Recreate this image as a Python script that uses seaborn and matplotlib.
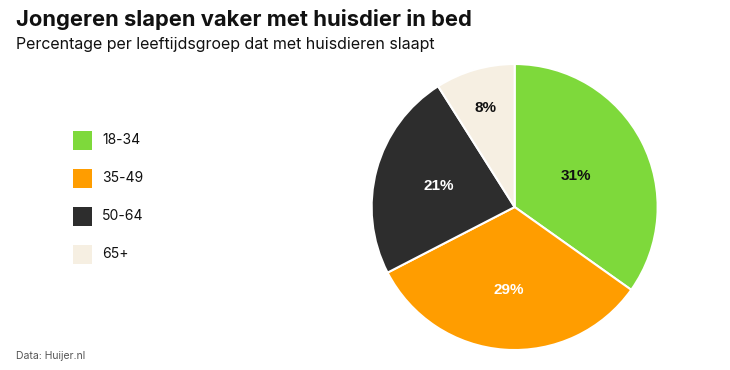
import matplotlib
matplotlib.use("Agg")
import matplotlib.pyplot as plt
import seaborn as sns
import numpy as np
from matplotlib.patches import Rectangle

categories = ["18-34", "35-49", "50-64", "65+"]
values = [31, 29, 21, 8]
value_labels = ["31%", "29%", "21%", "8%"]
colors = ["#7ED93B", "#FF9D00", "#2D2D2D", "#F6EFE2"]
label_colors = ["#111111", "#FFFFFF", "#FFFFFF", "#111111"]

sns.set_style("white")
plt.rcParams["font.family"] = ["Inter", "DejaVu Sans"]

fig = plt.figure(figsize=(7.3, 3.7), dpi=100)
fig.patch.set_facecolor("white")

ax = fig.add_axes([0.509, 0.054, 0.392, 0.773])
wedges, _ = ax.pie(values, colors=colors, startangle=90, counterclock=False,
                   radius=1.0, wedgeprops=dict(edgecolor="white", linewidth=1.5))
ax.set_xlim(-1, 1)
ax.set_ylim(-1, 1)
ax.set_aspect("equal")
ax.axis("off")

dist = [0.48, 0.58, 0.55, 0.72]
for w, lab, c, d in zip(wedges, value_labels, label_colors, dist):
    ang = np.deg2rad((w.theta1 + w.theta2) / 2)
    ax.text(d * np.cos(ang), d * np.sin(ang), lab, ha="center", va="center",
            color=c, fontsize=11, fontweight="bold",
            family=["Liberation Sans", "DejaVu Sans"])

fig.text(16 / 730, 1 - 19 / 370, "Jongeren slapen vaker met huisdier in bed",
         fontsize=15.8, fontweight="bold", color="#111111", va="center", ha="left")
fig.text(16 / 730, 1 - 44 / 370, "Percentage per leeftijdsgroep dat met huisdieren slaapt",
         fontsize=11.5, color="#111111", va="center", ha="left")
fig.text(16 / 730, 1 - 356 / 370, "Data: Huijer.nl", fontsize=7.5, color="#555555",
         va="center", ha="left")

ys = [140, 178, 216, 254]
for cat, col, y in zip(categories, colors, ys):
    fig.patches.append(Rectangle((73 / 730, 1 - (y + 9.5) / 370), 19 / 730, 19 / 370,
                                 transform=fig.transFigure, facecolor=col,
                                 edgecolor="none", figure=fig))
    fig.text(102 / 730, 1 - y / 370, cat, fontsize=10, color="#111111",
             va="center", ha="left")

fig.savefig("out.png", dpi=100, facecolor="white")
